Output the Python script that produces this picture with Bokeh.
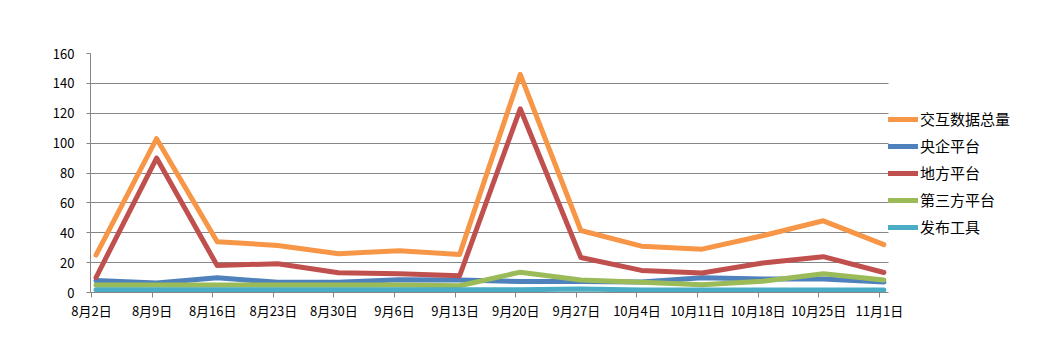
from bokeh.plotting import figure
from bokeh.models import FixedTicker, Legend, LegendItem, Range1d
from bokeh.embed import file_html
from bokeh.resources import INLINE

dates = ["8月2日", "8月9日", "8月16日", "8月23日", "8月30日", "9月6日", "9月13日",
         "9月20日", "9月27日", "10月4日", "10月11日", "10月18日", "10月25日", "11月1日"]
total = [25, 103, 34, 31.5, 26, 28, 25.5, 146, 41.5, 31, 29, 38, 48, 32]
central = [8, 6.4, 9.8, 6.8, 6.8, 8.6, 8.4, 7.3, 7.3, 7, 9.8, 9, 9, 7]
local = [10, 90, 18, 19.3, 13.2, 12.5, 11.2, 123, 23.4, 14.8, 13, 19.8, 24, 13.4]
third = [5, 5, 5, 5, 5, 5, 4.5, 13.6, 8.4, 6.8, 5.2, 7.5, 12.5, 8.4]
tool = [1.8, 1.8, 1.8, 1.8, 1.8, 1.8, 1.8, 1.8, 2.3, 1.6, 1.6, 1.6, 1.6, 1.6]

names = ["交互数据总量", "央企平台", "地方平台", "第三方平台", "发布工具"]
colors = ["#F79646", "#4F81BD", "#C0504D", "#9BBB59", "#4BACC6"]
series = [total, central, local, third, tool]

FONT = "Noto Sans CJK SC"
xs = list(range(len(dates)))
SHIFT = 0.074  # points sit slightly right of their tick marks, as in the reference
xs_line = [i + SHIFT for i in xs]

X0, X1, XEND = -0.0165, 13.15, 15.46

p = figure(width=1028, height=342, output_backend="svg", toolbar_location=None,
           x_range=Range1d(X0, XEND), y_range=Range1d(0, 160),
           min_border_left=90, min_border_top=53, min_border_right=0,
           min_border_bottom=50)
p.outline_line_color = None
p.background_fill_color = "white"

renderers = []
for s, c in zip(series, colors):
    r = p.line(xs_line, s, line_color=c, line_width=5, line_cap="round", line_join="round")
    renderers.append(r)

p.xaxis.ticker = FixedTicker(ticks=xs)
p.xaxis.major_label_overrides = {i: d for i, d in enumerate(dates)}
p.xaxis.bounds = (X0, X1)
p.yaxis.ticker = FixedTicker(ticks=list(range(0, 161, 20)))

for ax in (p.xaxis, p.yaxis):
    ax.axis_line_color = "#868686"
    ax.major_tick_line_color = "#868686"
    ax.minor_tick_line_color = None
    ax.major_tick_in = 0
    ax.major_label_text_font = FONT
    ax.major_label_text_font_size = "13px"
    ax.major_label_text_color = "#000000"
p.xaxis.major_tick_out = 5
p.xaxis.major_label_standoff = 3
p.yaxis.major_tick_out = 4
p.yaxis.major_label_standoff = 12

p.xgrid.grid_line_color = None
p.ygrid.grid_line_color = "#868686"
p.ygrid.grid_line_width = 1
p.ygrid.cross_bounds = (X0, X1)

legend = Legend(items=[LegendItem(label=n, renderers=[r]) for n, r in zip(names, renderers)],
                location=(798, 55), orientation="vertical")
legend.label_text_font = FONT
legend.label_text_font_size = "15px"
legend.label_text_color = "#000000"
legend.glyph_width = 30
legend.glyph_height = 20
legend.label_height = 20
legend.label_standoff = 2
legend.spacing = 6
legend.padding = 2
legend.margin = 0
legend.border_line_color = None
legend.background_fill_alpha = 0
p.add_layout(legend, "center")

open("out.html", "w").write(file_html(p, INLINE))
